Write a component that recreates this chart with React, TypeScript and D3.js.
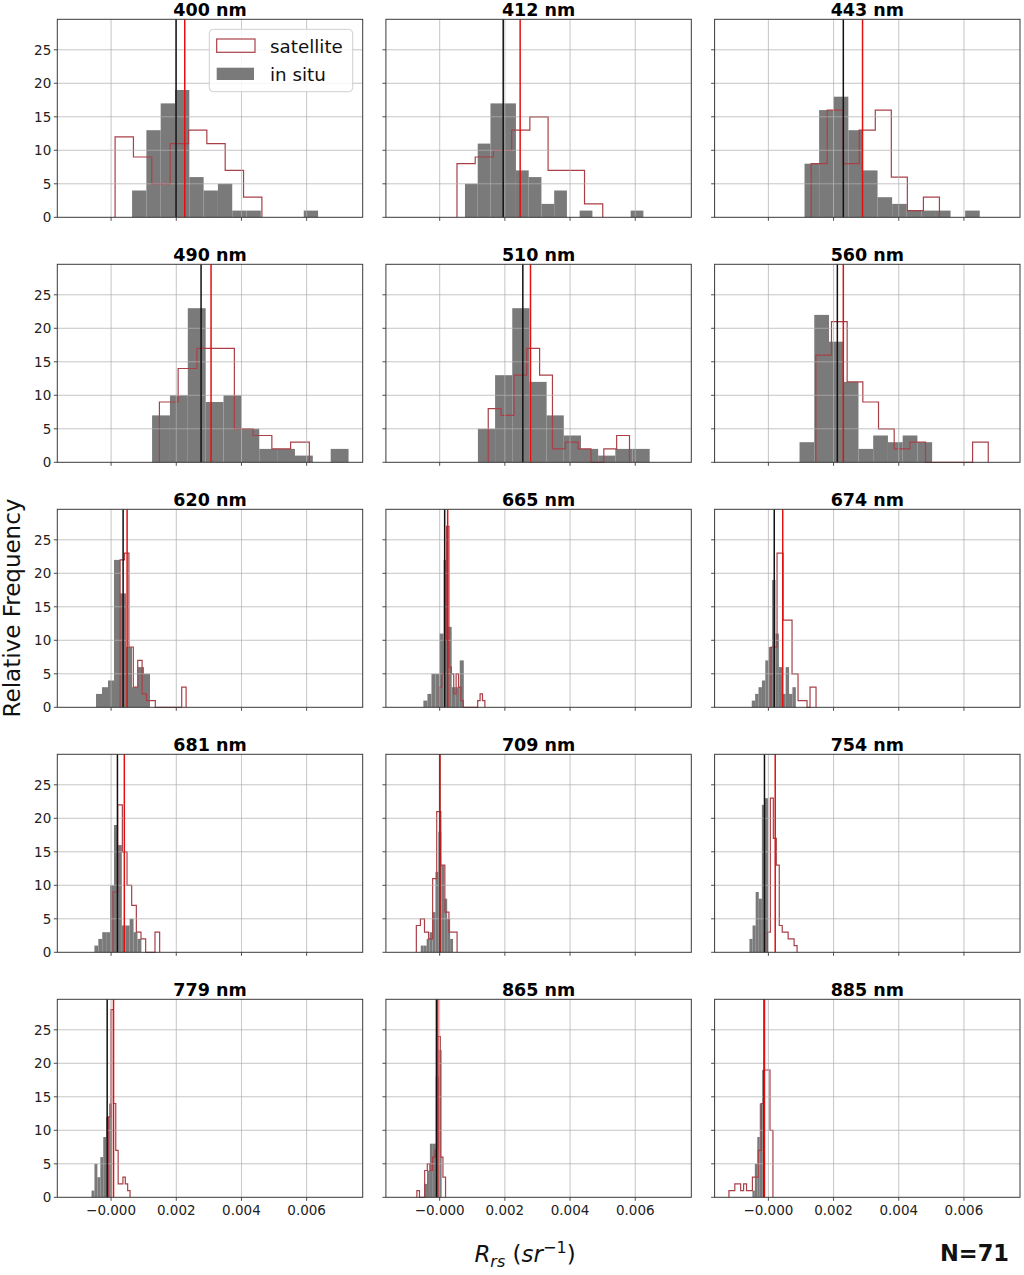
import React from 'react';
import * as d3 from 'd3';

// wavelength bands, one panel each
const bands = ['400 nm', '412 nm', '443 nm', '490 nm', '510 nm', '560 nm', '620 nm', '665 nm', '674 nm',
  '681 nm', '709 nm', '754 nm', '779 nm', '865 nm', '885 nm'];

// in situ histograms: first bin edge, bin width (sr^-1), counts
const inSituStart = [0.000644, 0.000776, 0.001109, 0.001258, 0.001173, 0.000956, -0.000462, -0.0005, -0.00051,
  -0.000511, -0.00058, -0.00058, -0.0006, -0.00048, -0.00049];
const inSituWidth = [0.000439, 0.000391, 0.000448, 0.000548, 0.000527, 0.000452, 0.000184, 0.000124, 0.000104,
  0.00012, 0.00009, 0.000095, 0.00009, 0.00009, 0.000075];
const inSituCounts = [
  [4, 13, 17, 19, 6, 4, 5, 1, 1, 0, 0, 0, 1],
  [5, 11, 17, 17, 7, 6, 2, 4, 0, 1, 0, 0, 0, 1],
  [8, 16, 18, 13, 7, 3, 2, 1, 1, 1, 0, 1],
  [7, 10, 23, 9, 10, 5, 2, 2, 1, 0, 2],
  [5, 13, 23, 12, 7, 4, 2, 1, 2, 2],
  [3, 22, 18, 12, 2, 4, 3, 4, 3],
  [2, 3, 4, 22, 17, 9, 3, 6, 5],
  [1, 2, 5, 5, 11, 22, 12, 3, 3, 7],
  [1, 2, 3, 4, 7, 9, 19, 11, 6, 2, 6, 2, 3],
  [1, 2, 3, 3, 10, 19, 16, 4, 4, 5, 3, 2],
  [1, 1, 2, 3, 6, 12, 18, 13, 8, 5, 2],
  [2, 4, 9, 8, 22, 23],
  [1, 5, 3, 6, 9, 12, 14],
  [2, 4, 8, 8, 18, 22],
  [1, 5, 9, 14, 19],
];

// satellite histograms
const satStart = [0.000123, 0.000531, 0.001312, 0.001483, 0.00149, 0.001455, 0.000277, -0.00001, 0.000082,
  0.00006, -0.000716, -0.00003, -0.000075, -0.0007, -0.00121];
const satWidth = [0.000563, 0.000559, 0.000492, 0.000575, 0.000394, 0.000481, 0.000135, 0.0000735, 0.000092,
  0.000143, 0.000125, 0.000091, 0.000073, 0.00008, 0.00009];
const satCounts = [
  [12, 9, 5, 11, 13, 11, 7, 3],
  [8, 9, 10, 13, 15, 7, 7, 2],
  [8, 16, 8, 13, 16, 6, 1, 3],
  [9, 14, 17, 17, 5, 4, 2, 3],
  [8, 7, 13, 17, 13, 2, 3, 2, 0, 2, 4],
  [16, 21, 12, 9, 5, 2, 3, 0, 0, 0, 3],
  [22, 23, 9, 3, 7, 2, 1, 1, 0, 0, 0, 0, 0, 0, 3],
  [3, 5, 10, 27, 6, 5, 2, 5, 3, 1, 0, 0, 0, 0, 0, 0, 1, 2, 1],
  [9, 9, 23, 23, 13, 13, 13, 5, 5, 1, 1, 1, 0, 3, 3],
  [9, 22, 15, 10, 7, 3, 2, 0, 0, 3],
  [4, 5, 3, 2, 11, 21, 13, 6, 3, 3],
  [3, 23, 17, 13, 4, 3, 3, 2, 2, 1],
  [12, 28, 14, 7, 2, 2, 3, 2, 1],
  [1, 0, 0, 4, 5, 4, 6, 7, 24, 6, 3],
  [1, 1, 2, 2, 1, 2, 1, 1, 3, 3, 7, 14, 19, 19, 10],
];

// vertical reference lines
const inSituLine = [0.001994, 0.001949, 0.002299, 0.002761, 0.002551, 0.002116, 0.000369, 0.000153, 0.00018,
  0.000195, 0.0, -0.00012, -0.00012, -0.0001, -0.00013];
const satLine = [0.00226, 0.002469, 0.002889, 0.003067, 0.002786, 0.002299, 0.000492, 0.000245, 0.00044,
  0.000406, 0.000005, 0.00021, 0.000075, -0.00006, -0.00012];

const xTicks = [0, 0.002, 0.004, 0.006];
const xTickLabels = ['\u22120.000', '0.002', '0.004', '0.006'];
const yTicks = [0, 5, 10, 15, 20, 25];

const xDomain = [-0.00165, 0.00772];
const yDomain = [0, 29.55];

const colLeft = [57.3, 385.9, 714.6];
const rowTop = [19.3, 264.3, 509.3, 754.3, 999.3];
const panelW = 305.4;
const panelH = 198;

const FONT = 'DejaVu Sans, Verdana, sans-serif';
const GRAY = '#7a7a7a';
const SAT = '#a94048';

const Panel: React.FC<{ k: number }> = ({ k }) => {
  const row = Math.floor(k / 3);
  const col = k % 3;
  const left = colLeft[col];
  const top = rowTop[row];
  const x = d3.scaleLinear().domain(xDomain).range([left, left + panelW]);
  const y = d3.scaleLinear().domain(yDomain).range([top + panelH, top]);

  const gs = inSituStart[k];
  const gw = inSituWidth[k];
  const ss = satStart[k];
  const sw = satWidth[k];
  const sc = satCounts[k];

  const pts: [number, number][] = [[ss, 0]];
  sc.forEach((c, i) => pts.push([ss + i * sw, c]));
  pts.push([ss + sc.length * sw, 0]);
  const step = d3.line<[number, number]>()
    .x(d => x(d[0]))
    .y(d => y(d[1]))
    .curve(d3.curveStepAfter);

  return (
    <g>
      <text x={left + panelW / 2} y={top - 3.8} textAnchor="middle" fontFamily={FONT} fontWeight="bold"
        fontSize={17.5} fill="#000">{bands[k]}</text>
      {inSituCounts[k].map((c, i) => c > 0 && (
        <rect key={i} x={x(gs + i * gw)} y={y(c)} width={x(gs + (i + 1) * gw) - x(gs + i * gw)}
          height={y(0) - y(c)} fill={GRAY} />
      ))}
      <path d={step(pts) || ''} fill="none" stroke={SAT} strokeWidth={1.2} />
      {xTicks.map(t => (
        <line key={'gx' + t} x1={x(t)} x2={x(t)} y1={top} y2={top + panelH} stroke="#b0b0b0"
          strokeWidth={0.9} opacity={0.8} />
      ))}
      {yTicks.slice(1).map(t => (
        <line key={'gy' + t} x1={left} x2={left + panelW} y1={y(t)} y2={y(t)} stroke="#b0b0b0"
          strokeWidth={0.9} opacity={0.8} />
      ))}
      <line x1={x(inSituLine[k])} x2={x(inSituLine[k])} y1={top} y2={top + panelH} stroke="#111"
        strokeWidth={1.5} />
      <line x1={x(satLine[k])} x2={x(satLine[k])} y1={top} y2={top + panelH} stroke="#e41010"
        strokeWidth={1.5} />
      <rect x={left} y={top} width={panelW} height={panelH} fill="none" stroke="#3a3a3a" strokeWidth={1} />
      {yTicks.map(t => (
        <line key={'ty' + t} x1={left - 3.5} x2={left} y1={y(t)} y2={y(t)} stroke="#3a3a3a" strokeWidth={0.9} />
      ))}
      {xTicks.map(t => (
        <line key={'tx' + t} x1={x(t)} x2={x(t)} y1={top + panelH} y2={top + panelH + 3.5} stroke="#3a3a3a"
          strokeWidth={0.9} />
      ))}
      {col === 0 && yTicks.map(t => (
        <text key={'ly' + t} x={left - 6} y={y(t) + 4.8} textAnchor="end" fontFamily={FONT} fontSize={13.5}
          fill="#222">{t}</text>
      ))}
      {row === 4 && xTicks.map((t, i) => (
        <text key={'lx' + t} x={x(t)} y={top + panelH + 17.5} textAnchor="middle" fontFamily={FONT}
          fontSize={13.5} fill="#222">{xTickLabels[i]}</text>
      ))}
    </g>
  );
};

const Legend: React.FC = () => (
  <g fontFamily={FONT}>
    <rect x={209.3} y={29.3} width={143.4} height={62.4} rx={4} fill="#fff" fillOpacity={0.85}
      stroke="#cfcfcf" strokeWidth={1} />
    <rect x={216.7} y={39} width={38.3} height={13.3} fill="#fff" stroke={SAT} strokeWidth={1.2} />
    <text x={270} y={52.5} fontSize={18.3} fill="#111">satellite</text>
    <rect x={216.7} y={67.7} width={37.3} height={12.3} fill={GRAY} />
    <text x={270} y={80.8} fontSize={18.3} fill="#111">in situ</text>
  </g>
);

const App: React.FC = () => (
  <svg width={1024} height={1275} style={{ position: 'absolute', left: 0, top: 0, background: '#fff' }}>
    <rect width={1024} height={1275} fill="#fff" />
    {bands.map((b, k) => <Panel key={b} k={k} />)}
    <Legend />
    <text transform="translate(20,608) rotate(-90)" textAnchor="middle" fontFamily={FONT} fontSize={23}
      fill="#111">Relative Frequency</text>
    <text x={525} y={1262} textAnchor="middle" fontFamily={FONT} fontSize={23} fill="#111">
      <tspan fontStyle="italic">R</tspan>
      <tspan fontStyle="italic" fontSize={16} dy={5}>rs</tspan>
      <tspan dy={-5}> (</tspan>
      <tspan fontStyle="italic">sr</tspan>
      <tspan fontSize={16} dy={-9}>{'\u22121'}</tspan>
      <tspan dy={9}>)</tspan>
    </text>
    <text x={940} y={1261} fontFamily={FONT} fontWeight="bold" fontSize={22.5} fill="#111">N=71</text>
  </svg>
);

export default App;
